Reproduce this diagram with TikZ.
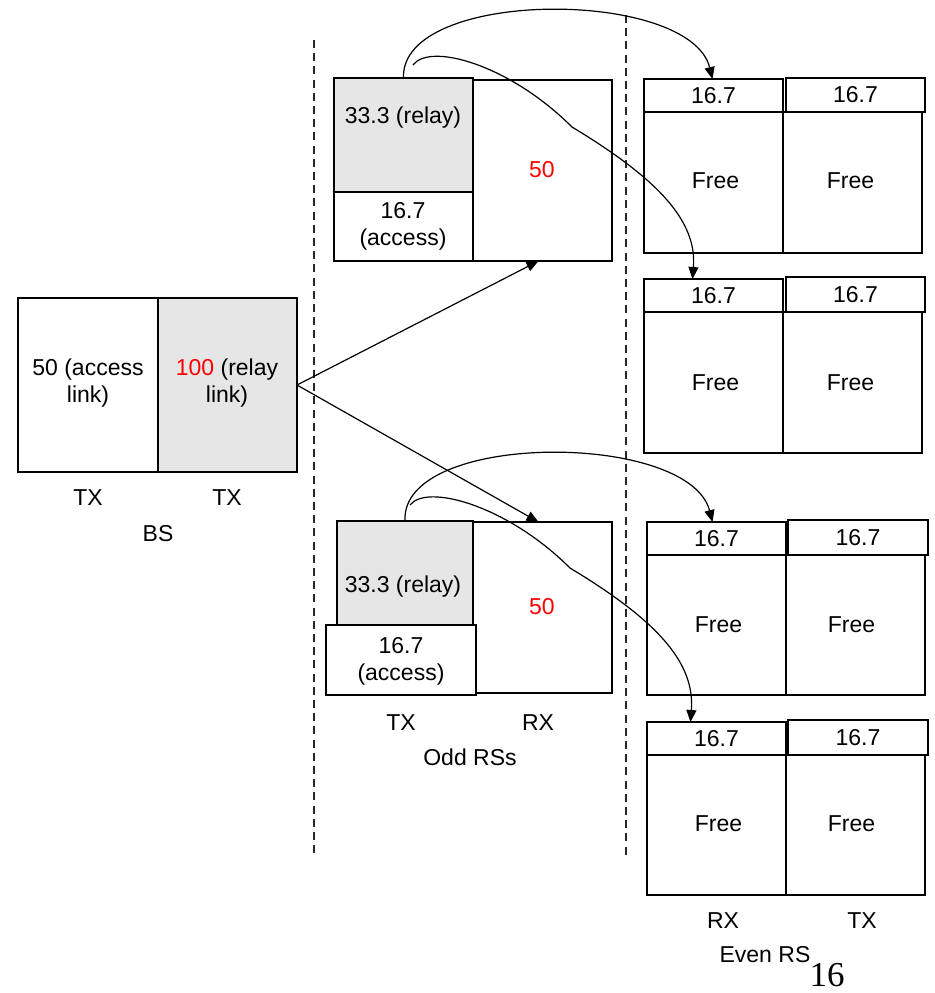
\documentclass[tikz,border=0pt]{standalone}
\usepackage{fontspec}
\setmainfont{Liberation Sans}
\newfontfamily\serifnum{Liberation Serif}
\usetikzlibrary{arrows.meta,calc}
\definecolor{relaygray}{HTML}{E6E6E6}
\definecolor{numred}{HTML}{FF0000}
\newcommand\boxat[6][]{\node[cell,#1,minimum width={(#5-#3)*0.5pt},minimum height={(#6-#4)*0.5pt}] (#2) at ({(#3+#5)/2},{(#4+#6)/2}) {};}
\tikzset{
  cell/.style={draw=black,line width=0.65pt,fill=white,rectangle,inner sep=0pt,outer sep=0pt},
  relay/.style={fill=relaygray},
  txt/.style={font=\fontsize{11.5}{13.5}\selectfont,inner sep=0pt,align=center},
  sep/.style={dashed,line width=0.6pt,dash pattern=on 4pt off 2.6pt,draw=black!85},
  link/.style={line width=0.6pt,-{Triangle[length=6pt,width=5pt]}}
}
\begin{document}
\begin{tikzpicture}[x=0.5pt,y=-0.5pt]
\useasboundingbox (0,0) rectangle (934,993);
% separators
\draw[sep] (314,40) -- (314,855);
\draw[sep] (626,15) -- (626,855);
% BS
\boxat{bsA}{18}{298}{158}{472}
\boxat[relay]{bsB}{158}{298}{297}{472}
\node[txt] (bsAt) at (88,383) {50 (access\\link)};
\node[txt] (bsBt) at (227,383) {\textcolor{numred}{100} (relay\\link)};
\node[txt] (bsTX1) at (88,498) {TX};
\node[txt] (bsTX2) at (227,498) {TX};
\node[txt] (bsL) at (158,534) {BS};
% odd RS top
\boxat{otRX}{473}{80}{612}{261}
\boxat[relay]{otRel}{334}{78}{473}{192}
\boxat{otAcc}{334}{192}{473}{261}
\node[txt] (otRelt) at (403,118) {33.3 (relay)};
\node[txt] (otAcct) at (403,226) {16.7\\(access)};
\node[txt,text=numred] (otRXt) at (542,170) {50};
% odd RS bottom
\boxat{obRX}{473}{522}{612}{693}
\boxat[relay]{obRel}{337}{521}{473}{625}
\boxat{obAcc}{326}{625}{476}{695}
\node[txt] (obRelt) at (403,587) {33.3 (relay)};
\node[txt] (obAcct) at (401,661) {16.7\\(access)};
\node[txt,text=numred] (obRXt) at (542,607) {50};
\node[txt] (obTX) at (401,723) {TX};
\node[txt] (obRXl) at (538,723) {RX};
\node[txt] (oddL) at (470,757) {Odd RSs};
% even RS pairs
\boxat{eA1m}{644}{112}{783}{253}
\boxat{eA1s}{644}{79}{783}{112}
\boxat{eA2m}{783}{112}{922}{253}
\boxat{eA2s}{786}{78}{925}{112}
\boxat{eB1m}{644}{312}{783}{453}
\boxat{eB1s}{644}{279}{783}{312}
\boxat{eB2m}{783}{312}{922}{453}
\boxat{eB2s}{786}{277}{925}{312}
\boxat{eC1m}{647}{555}{786}{695}
\boxat{eC1s}{647}{522}{786}{555}
\boxat{eC2m}{786}{555}{925}{695}
\boxat{eC2s}{788}{520}{928}{555}
\boxat{eD1m}{647}{755}{786}{895}
\boxat{eD1s}{647}{722}{786}{755}
\boxat{eD2m}{786}{755}{925}{895}
\boxat{eD2s}{788}{720}{928}{755}
\foreach \n in {eA1s,eA2s,eB1s,eB2s,eC1s,eC2s,eD1s,eD2s}{\node[txt] at (\n) {16.7};}
\node[txt] at ($(eA1m)+(2,-2)$) {Free};
\node[txt] at ($(eA2m)+(-2,-2)$) {Free};
\node[txt] at ($(eB1m)+(2,0)$) {Free};
\node[txt] at ($(eB2m)+(-2,0)$) {Free};
\node[txt] at ($(eC1m)+(2,0)$) {Free};
\node[txt] at ($(eC2m)+(-4,0)$) {Free};
\node[txt] at ($(eD1m)+(2,-1)$) {Free};
\node[txt] at ($(eD2m)+(-4,-1)$) {Free};
\node[txt] (evRX) at (723,921) {RX};
\node[txt] (evTX) at (862,921) {TX};
\node[txt] (evL) at (765,955) {Even RS};
\node[font=\serifnum\fontsize{17.5}{20}\selectfont,inner sep=0pt] (pg) at (827,975) {16};
% BS arrows
\coordinate (bsOut) at (bsB.east);
\draw[link] (bsOut) -- ($(otRX.south)+(-4,0)$);
\draw[link] (bsOut) -- ($(obRX.north)+(-4,0)$);
% top curves
\draw[link] (otRel.north) .. controls (400,-12) and (690,-12) .. ($(eA1s.north)+(-1,0)$);
\coordinate (k1s) at (413,65);
\coordinate (k1) at (572,127);
\draw[link] (k1s) .. controls (430,42) and (510,65) .. (k1) .. controls (660,180) and (697,222) .. ($(eB1s.north)+(-21,0)$);
% bottom curves
\draw[link] (obRel.north) .. controls (400,431) and (689,431) .. ($(eC1s.north)+(-4,0)$);
\coordinate (k2s) at (410,505);
\coordinate (k2) at (570,568);
\draw[link] (k2s) .. controls (427,483) and (508,506) .. (k2) .. controls (658,621) and (695,663) .. ($(eD1s.north)+(-26,0)$);
\end{tikzpicture}
\end{document}
